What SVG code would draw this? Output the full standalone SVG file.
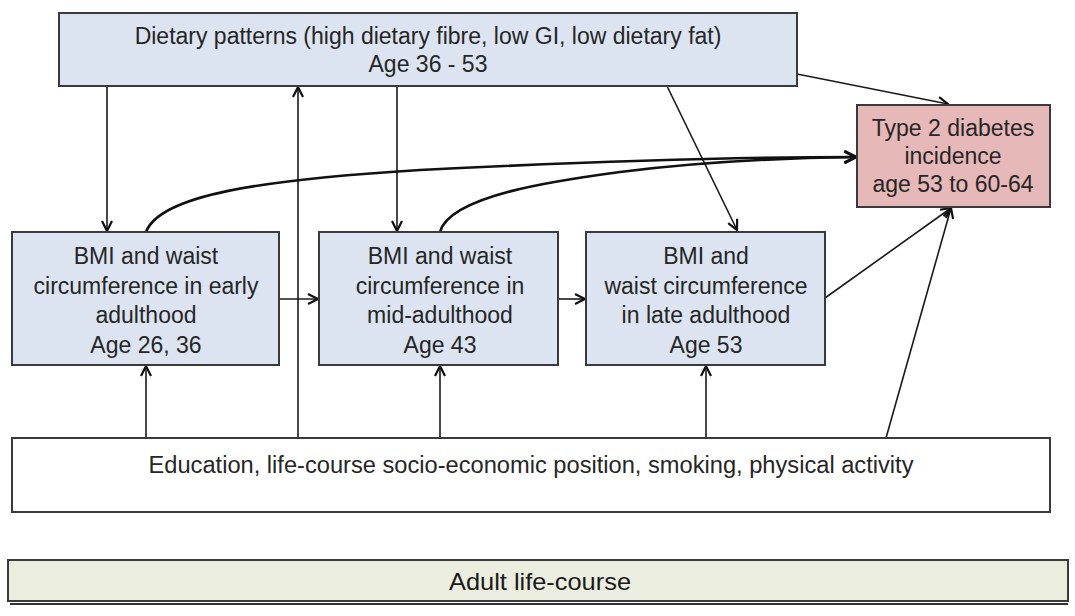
<svg xmlns="http://www.w3.org/2000/svg" width="1075" height="616" viewBox="0 0 1075 616">
<style>
.box{fill:#dbe4f0;stroke:#3a3a3a;stroke-width:2}
.t{font-family:'Liberation Sans',Arial,Helvetica,sans-serif;font-size:23px;fill:#262626;text-anchor:middle}
.c{fill:none;stroke:#1a1a1a;stroke-width:1.6}
.cb{fill:none;stroke:#111;stroke-width:2.6}
</style>
<defs>
<marker id="ah" viewBox="0 0 12 12" refX="11" refY="6" markerWidth="12" markerHeight="12" markerUnits="userSpaceOnUse" orient="auto">
<path d="M1,1 L11,6 L1,11" fill="none" stroke="#111" stroke-width="2.2"/>
</marker>
<marker id="ah2" viewBox="0 0 12 12" refX="11" refY="6" markerWidth="14" markerHeight="14" markerUnits="userSpaceOnUse" orient="auto">
<path d="M1,1 L11,6 L1,11" fill="none" stroke="#111" stroke-width="2.4"/>
</marker>
</defs>
<rect width="1075" height="616" fill="#ffffff"/>
<g id="connectors">
<line class="c" x1="107" y1="86" x2="107" y2="231" marker-end="url(#ah)"/>
<line class="c" x1="397" y1="86" x2="397" y2="231" marker-end="url(#ah)"/>
<line class="c" x1="667" y1="86" x2="737" y2="230" marker-end="url(#ah)"/>
<line class="c" x1="797" y1="74" x2="948" y2="104" marker-end="url(#ah)"/>
<line class="c" x1="298" y1="438" x2="298" y2="87" marker-end="url(#ah)"/>
<line class="c" x1="146" y1="438" x2="146" y2="366" marker-end="url(#ah)"/>
<line class="c" x1="440" y1="438" x2="440" y2="366" marker-end="url(#ah)"/>
<line class="c" x1="706" y1="438" x2="706" y2="366" marker-end="url(#ah)"/>
<line class="c" x1="886" y1="438" x2="951" y2="208" marker-end="url(#ah)"/>
<line class="c" x1="825" y1="298" x2="951" y2="208" marker-end="url(#ah)"/>
<line class="c" x1="279" y1="299" x2="318" y2="299" marker-end="url(#ah)"/>
<line class="c" x1="558" y1="299" x2="585" y2="299" marker-end="url(#ah)"/>
<path class="cb" d="M146,232 C160,195 260,180 420,170 C580,162 720,157 856,157" marker-end="url(#ah2)"/>
<path class="cb" d="M440,232 C450,195 560,180 620,172 C700,162 780,158 856,157" marker-end="url(#ah2)"/>
</g>
<g id="diet">
<rect class="box" x="59" y="13" width="738" height="73"/>
<text class="t" x="428" y="44">Dietary patterns (high dietary fibre, low GI, low dietary fat)</text>
<text class="t" x="428" y="72">Age 36 - 53</text>
</g>
<g id="diabetes">
<rect x="857" y="105" width="193" height="102" fill="#e6b8b7" stroke="#3a3a3a" stroke-width="2"/>
<text class="t" x="953" y="136">Type 2 diabetes</text>
<text class="t" x="953" y="164">incidence</text>
<text class="t" x="953" y="192">age 53 to 60-64</text>
</g>
<g id="early">
<rect class="box" x="12" y="232" width="267" height="133"/>
<text class="t" x="146" y="264">BMI and waist</text>
<text class="t" x="146" y="294">circumference in early</text>
<text class="t" x="146" y="323">adulthood</text>
<text class="t" x="146" y="353">Age 26, 36</text>
</g>
<g id="mid">
<rect class="box" x="319" y="232" width="239" height="133"/>
<text class="t" x="440" y="264">BMI and waist</text>
<text class="t" x="440" y="294">circumference in</text>
<text class="t" x="440" y="323">mid-adulthood</text>
<text class="t" x="440" y="353">Age 43</text>
</g>
<g id="late">
<rect class="box" x="586" y="232" width="239" height="133"/>
<text class="t" x="706" y="264">BMI and</text>
<text class="t" x="706" y="294">waist circumference</text>
<text class="t" x="706" y="323">in late adulthood</text>
<text class="t" x="706" y="353">Age 53</text>
</g>
<g id="confounders">
<rect x="12" y="438" width="1038" height="74" fill="#ffffff" stroke="#3a3a3a" stroke-width="2"/>
<text class="t" x="531" y="473" textLength="765" lengthAdjust="spacingAndGlyphs">Education, life-course socio-economic position, smoking, physical activity</text>
</g>
<g id="lifecourse">
<line x1="10" y1="604" x2="1068" y2="604" stroke="#333" stroke-width="2"/>
<rect x="8" y="560" width="1060" height="41" fill="#ebeddf" stroke="#3a3a3a" stroke-width="2"/>
<text x="540" y="590" font-family="'Liberation Sans Narrow','Liberation Sans',sans-serif" font-size="24" fill="#1a1a1a" text-anchor="middle" textLength="182" lengthAdjust="spacingAndGlyphs">Adult life-course</text>
</g>
</svg>
